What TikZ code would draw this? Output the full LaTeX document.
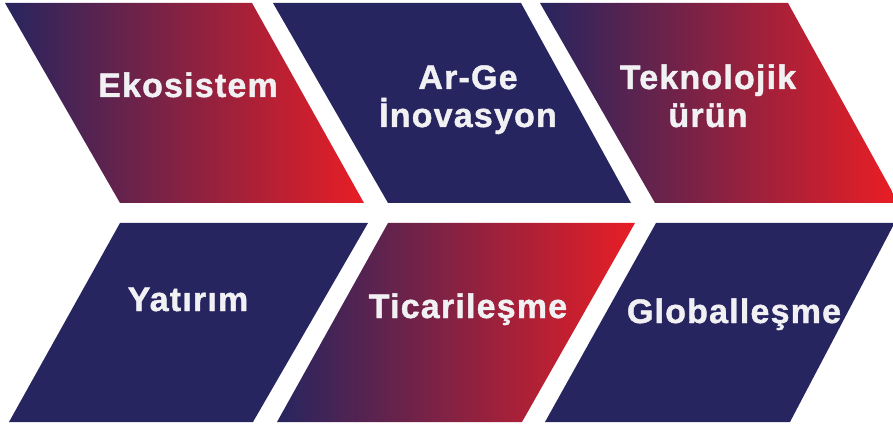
\documentclass[tikz,border=0pt]{standalone}
\usepackage{fontspec}
\setmainfont{Liberation Sans}[LetterSpace=3.5,BoldFeatures={FakeBold=1.2}]
\usepackage{tikz}
\definecolor{navy}{RGB}{39,37,95}
\definecolor{flame}{RGB}{232,30,37}
\definecolor{paper}{RGB}{241,241,244}

\begin{document}
\begin{tikzpicture}[x=0.75pt,y=0.75pt,yscale=-1,xscale=1,
  flat/.style={fill=navy},
  fade/.style={left color=navy,right color=flame},
  lbl/.style={text=paper,font=\fontsize{25.5}{28.5}\selectfont\bfseries,align=center,inner sep=0pt,anchor=base}]
\useasboundingbox (0,0) rectangle (893,424);
%Shape: top row, leaning right
\shade [fade] (5,3) -- (252,3) -- (364,203) -- (120,203) -- cycle;
\fill [flat] (273,3) -- (521,3) -- (631,203) -- (388,203) -- cycle;
\shade [fade] (540,3) -- (788,3) -- (893,193) -- (893,203) -- (655,203) -- cycle;
%Shape: bottom row, leaning left
\fill [flat] (120,223) -- (368,223) -- (253,422) -- (9,422) -- cycle;
\shade [fade] (388,223) -- (635,223) -- (522,422) -- (277,422) -- cycle;
\fill [flat] (656,223) -- (893,223) -- (893,226) -- (790,422) -- (545,422) -- cycle;
% Text Node
\node [lbl] (eko) at (188,97) {Ekosistem};
% Text Node
\node [lbl] (arge) at (468,127) {Ar-Ge\\İnovasyon};
% Text Node
\node [lbl] (tekno) at (708,127) {Teknolojik\\ürün};
% Text Node
\node [lbl] (yatirim) at (188,311) {Yatırım};
% Text Node
\node [lbl] (ticari) at (468,318) {Ticarileşme};
% Text Node
\node [lbl] (global) at (734,323) {Globalleşme};
\end{tikzpicture}
\end{document}
